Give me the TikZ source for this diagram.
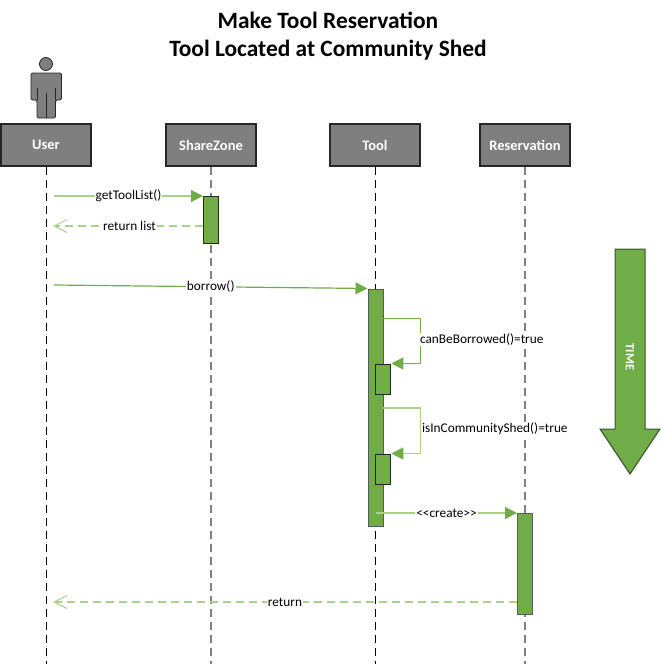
\documentclass[tikz,border=0pt]{standalone}
\usepackage{fontspec}
\setmainfont{Carlito}
\usetikzlibrary{arrows.meta}
\definecolor{grn}{HTML}{70AD47}
\definecolor{lgrn}{HTML}{A9D18E}
\definecolor{gry}{HTML}{7F7F7F}
\definecolor{dgry}{HTML}{262626}
\tikzset{
  x=1pt,y=-1pt,
  head/.style={draw=dgry,line width=1.3pt,fill=gry,text=white,font=\fontsize{14.5}{16}\selectfont\bfseries,minimum width=90pt,minimum height=42pt,inner sep=0pt},
  life/.style={draw=black,line width=1pt,dash pattern=on 8pt off 5pt},
  lifeg/.style={draw=gry,line width=1.6pt,dash pattern=on 8pt off 5pt},
  act/.style={draw=dgry,line width=1.1pt,fill=grn,inner sep=0pt,minimum width=15pt},
  actg/.style={draw=gry!70!black,line width=1.2pt,fill=grn,inner sep=0pt,minimum width=15pt},
  msg/.style={draw=lgrn,line width=1.2pt,-{Triangle[length=12pt,width=12pt,fill=grn,color=grn]}},
  msgd/.style={draw=grn,line width=1.2pt,-{Triangle[length=12pt,width=12pt,fill=grn,color=grn]}},
  ret/.style={draw=lgrn,line width=1.2pt,dash pattern=on 8pt off 5pt,-{Straight Barb[length=13pt,width=13pt,color=lgrn,line width=1pt]}},
  lab/.style={fill=white,inner sep=1pt,text=black,font=\fontsize{13.3}{15}\selectfont},
}
\begin{document}
\begin{tikzpicture}
\useasboundingbox (0,0) rectangle (661,664);
% title
\node[font=\fontsize{23.4}{27.5}\selectfont\bfseries,align=center,inner sep=0pt] (title) at (328,36) {Make Tool Reservation\\Tool Located at Community Shed};
% actor
\path[draw=dgry,line width=0.8pt,fill=gry,rounded corners=1.5pt]
  (31,73) -- (61.5,73) -- (61.5,100) -- (55.5,100) -- (55.5,118) -- (37,118) -- (37,100) -- (31,100) -- cycle;
\draw[dgry,line width=0.8pt] (37,88) -- (37,100) (55.5,88) -- (55.5,100) (46,93) -- (46,118);
\node[circle,draw=dgry,line width=0.8pt,fill=gry,minimum size=13pt,inner sep=0pt] (actorhead) at (46,64) {};
% headers
\node[head] (user) at (46,145) {User};
\node[head] (share) at (211,145) {ShareZone};
\node[head] (tool) at (375,145) {Tool};
\node[head] (res) at (525,145) {Reservation};
% lifeline ends
\coordinate (userEnd) at (46,664);
\coordinate (shareEnd) at (211,664);
\coordinate (toolEnd) at (375,664);
\coordinate (resEnd) at (525,664);
\draw[life] (user.south) -- (userEnd);
\draw[lifeg] (share.south) -- (shareEnd);
\draw[life] (tool.south) -- (toolEnd);
\draw[lifeg] (res.south) -- (resEnd);
% activations
\node[act,anchor=north west,minimum height=47pt] (a1) at (203,196) {};
\node[actg,anchor=north west,minimum height=237pt] (a2) at (367.7,288.5) {};
\node[act,anchor=north west,minimum height=30pt] (a3) at (375.2,363.5) {};
\node[act,anchor=north west,minimum height=30pt] (a4) at (375.2,453.5) {};
\node[actg,anchor=north west,minimum height=101pt] (a5) at (517,513) {};
% free ends
\coordinate (m1s) at (54,196);
\coordinate (m2e) at (53,226);
\coordinate (m3s) at (54,285);
\coordinate (m3e) at (367.5,288.5);
\coordinate (m4s) at (383,318.5);
\coordinate (m4c) at (420.5,318.5);
\coordinate (m4d) at (420.5,363.5);
\coordinate (m5s) at (383,408);
\coordinate (m5c) at (420.5,408);
\coordinate (m5d) at (420.5,453.5);
\coordinate (m6s) at (376,513);
\coordinate (m7e) at (53,602);
% messages
\draw[msg] (m1s) -- node[lab,pos=.5] (l1) {getToolList()} (m1s -| a1.west);
\draw[ret] (a1.west |- m2e) -- node[lab,pos=.49] (l2) {return list} (m2e);
\draw[msgd] (m3s) -- node[lab,pos=.5] (l3) {borrow()} (m3e);
\draw[msgd] (m4s) -- (m4c) -- node[lab,pos=.44,anchor=west,xshift=-2pt,yshift=-1pt] (l4) {canBeBorrowed()=true} (m4d) -- (a3.north east);
\draw[msg] (m5s) -- (m5c) -- node[lab,pos=.44,anchor=west,xshift=0pt,yshift=-1pt] (l5) {isInCommunityShed()=true} (m5d) -- (a4.north east);
\draw[msg] (m6s) -- node[lab,pos=.5] (l6) {<{}<create>{}>} (a5.north west);
\draw[ret] (a5.west |- m7e) -- node[lab,pos=.5] (l7) {return} (m7e);
% time arrow
\path[draw=dgry!70!grn,line width=1pt,fill=grn]
  (615,249) -- (645,249) -- (645,429) -- (660,429) -- (630,474) -- (600,429) -- (615,429) -- cycle;
\node[rotate=-90,text=white,font=\fontsize{12.5}{14}\selectfont\bfseries,inner sep=0pt] (time) at (630,357) {TIME};
\end{tikzpicture}
\end{document}
